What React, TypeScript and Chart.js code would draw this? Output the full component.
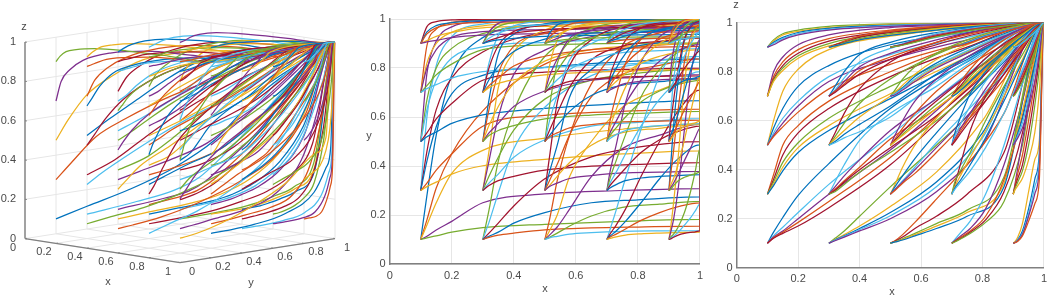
import React, { useEffect, useRef } from "react";
import { Chart, registerables } from "chart.js";

Chart.register(...registerables);

const FONT = '"Liberation Sans", Arial, sans-serif';
const TEXT = "#4a4a4a";
const GRID = "#e6e6e6";
const AXIS = "#808080";

const palette = ["#0072BD", "#D95319", "#EDB120", "#7E2F8E", "#77AC30", "#4DBEEE", "#A2142F"];
const starts = [0.1, 0.3, 0.5, 0.7, 0.9];
const axisTicks = [0, 0.2, 0.4, 0.6, 0.8, 1];
const tickLabels = ["0", "0.2", "0.4", "0.6", "0.8", "1"];

// x positions read along each family of curves, one row per starting x
const xSamples = [
  [0.12, 0.15, 0.2, 0.3, 0.5, 0.75, 1],
  [0.32, 0.35, 0.4, 0.5, 0.65, 0.8, 1],
  [0.515, 0.54, 0.58, 0.65, 0.75, 0.87, 1],
  [0.71, 0.73, 0.76, 0.81, 0.87, 0.93, 1],
  [0.905, 0.915, 0.93, 0.95, 0.97, 0.985, 1],
];

// y readings: [starting z][starting y][sample]
const yFromX01 = [
  [[.28,.526,.77,.924,.978,.987,.99],[.6,.81,.928,.979,.994,.997,.997],[.778,.909,.968,.991,.998,.999,.999],[.891,.959,.986,.996,.999,.999,1],[.969,.989,.996,.999,1,1,1]],
  [[.18,.31,.45,.625,.816,.878,.899],[.46,.63,.76,.865,.945,.965,.972],[.67,.8,.88,.94,.976,.985,.988],[.82,.9,.946,.972,.989,.993,.995],[.947,.973,.985,.993,.997,.998,.999]],
  [[.159,.25,.37,.464,.514,.55,.571],[.42,.56,.694,.77,.803,.825,.837],[.63,.75,.841,.886,.905,.917,.923],[.8,.875,.925,.948,.957,.963,.966],[.939,.964,.979,.986,.988,.99,.991]],
  [[.113,.139,.174,.25,.286,.3,.308],[.33,.383,.449,.5625,.607,.623,.632],[.535,.592,.655,.75,.783,.794,.8],[.728,.772,.816,.875,.894,.9,.903],[.912,.929,.945,.964,.97,.972,.973]],
  [[.107,.115,.13,.148,.162,.174,.182],[.316,.334,.367,.401,.427,.449,.462],[.519,.539,.574,.609,.635,.655,.667],[.716,.732,.759,.785,.802,.816,.824],[.907,.913,.924,.934,.94,.945,.947]],
];
const yFromX03 = [
  [[.22,.42,.625,.847,.943,.971,.982],[.46,.72,.865,.955,.985,.992,.995],[.67,.857,.938,.98,.993,.997,.998],[.82,.933,.972,.992,.997,.999,.999],[.947,.982,.993,.998,.999,1,1]],
  [[.17,.29,.47,.64,.769,.816,.847],[.42,.6,.774,.873,.928,.945,.955],[.63,.778,.889,.941,.968,.976,.98],[.8,.891,.949,.974,.986,.989,.992],[.939,.969,.986,.993,.996,.997,.998]],
  [[.126,.167,.237,.348,.4375,.477,.5],[.358,.436,.546,.673,.75,.779,.794],[.565,.643,.737,.828,.875,.891,.9],[.752,.808,.867,.918,.942,.95,.955],[.921,.942,.962,.977,.984,.987,.988]],
  [[.113,.13,.167,.21,.25,.262,.274],[.33,.367,.436,.507,.5625,.578,.593],[.535,.574,.643,.706,.75,.762,.773],[.728,.759,.808,.848,.875,.882,.888],[.912,.924,.942,.956,.964,.966,.968]],
  [[.109,.118,.126,.139,.147,.151,.155],[.32,.34,.358,.383,.399,.407,.414],[.524,.545,.565,.592,.608,.615,.623],[.72,.737,.752,.772,.783,.789,.794],[.908,.915,.921,.929,.933,.935,.937]],
];
const yFromX05 = [
  [[.18,.34,.526,.735,.886,.943,.971],[.436,.659,.811,.915,.968,.985,.992],[.643,.818,.909,.962,.986,.993,.997],[.808,.913,.959,.983,.994,.997,.999],[.942,.976,.989,.996,.998,.999,1]],
  [[.135,.2,.357,.5,.64,.71,.757],[.375,.485,.682,.794,.873,.904,.923],[.583,.688,.833,.9,.941,.957,.966],[.766,.837,.921,.955,.974,.981,.985],[.927,.952,.978,.988,.993,.995,.996]],
  [[.118,.151,.224,.357,.471,.526,.571],[.34,.407,.527,.682,.774,.811,.837],[.545,.615,.722,.833,.889,.909,.923],[.737,.789,.859,.921,.949,.959,.966],[.915,.935,.959,.978,.986,.989,.991]],
  [[.109,.126,.155,.196,.231,.244,.256],[.32,.358,.414,.485,.536,.554,.57],[.524,.565,.623,.688,.73,.744,.756],[.72,.752,.794,.837,.863,.871,.879],[.908,.921,.937,.952,.961,.963,.965]],
  [[.107,.113,.122,.128,.133,.135,.136],[.316,.33,.349,.361,.372,.375,.378],[.519,.535,.556,.569,.58,.583,.587],[.716,.728,.745,.755,.763,.766,.768],[.907,.912,.918,.922,.926,.927,.927]],
];
const yFromX07 = [
  [[.14,.22,.35,.55,.769,.886,.943],[.375,.485,.659,.825,.928,.968,.985],[.583,.688,.818,.917,.968,.986,.993],[.766,.837,.913,.963,.986,.994,.997],[.927,.952,.976,.99,.996,.998,.999]],
  [[.122,.159,.224,.357,.5,.625,.71],[.349,.422,.527,.682,.794,.865,.904],[.556,.63,.722,.833,.9,.938,.957],[.745,.799,.859,.921,.955,.972,.981],[.918,.939,.959,.978,.988,.993,.995]],
  [[.113,.135,.174,.25,.348,.43,.486],[.33,.375,.449,.5625,.673,.745,.785],[.535,.583,.655,.75,.828,.872,.895],[.728,.766,.816,.875,.918,.941,.952],[.912,.927,.945,.964,.977,.984,.987]],
  [[.109,.122,.143,.178,.21,.234,.25],[.32,.349,.391,.455,.507,.541,.5625],[.524,.556,.6,.661,.706,.733,.75],[.72,.745,.778,.82,.848,.865,.875],[.908,.918,.931,.946,.956,.961,.964]],
  [[.104,.111,.118,.123,.126,.128,.13],[.31,.324,.34,.351,.358,.361,.365],[.512,.528,.545,.558,.565,.569,.573],[.71,.723,.737,.746,.752,.755,.758],[.904,.91,.915,.919,.921,.922,.923]],
];
const yFromX09 = [
  [[.143,.25,.4375,.735,.899,.957,.978],[.391,.5625,.75,.915,.972,.988,.994],[.6,.75,.875,.962,.988,.995,.998],[.778,.875,.942,.983,.995,.998,.999],[.931,.964,.984,.996,.999,.999,1]],
  [[.126,.182,.308,.55,.769,.87,.917],[.358,.462,.632,.825,.928,.963,.977],[.565,.667,.8,.917,.968,.984,.99],[.752,.824,.903,.963,.986,.993,.996],[.921,.947,.973,.99,.996,.998,.999]],
  [[.109,.122,.151,.21,.297,.379,.471],[.32,.349,.407,.507,.62,.702,.774],[.524,.556,.615,.706,.792,.846,.889],[.72,.745,.789,.848,.899,.928,.949],[.908,.918,.935,.956,.972,.98,.986]],
  [[.104,.113,.13,.159,.189,.217,.244],[.31,.33,.367,.422,.474,.517,.554],[.512,.535,.574,.63,.677,.714,.744],[.71,.728,.759,.799,.831,.854,.871],[.904,.912,.924,.939,.95,.957,.963]],
  [[.102,.109,.118,.125,.129,.131,.135],[.304,.32,.34,.354,.363,.368,.375],[.505,.524,.545,.561,.571,.576,.583],[.704,.72,.737,.749,.756,.76,.766],[.902,.908,.915,.92,.923,.925,.927]],
];

// z readings: [starting z][starting y][sample]; every curve ends at z = 1
const zFromX01 = [
  [[.145,.205,.295,.425,.65,.84],[.13,.165,.225,.34,.54,.79],[.125,.15,.2,.3,.48,.75],[.122,.145,.185,.27,.45,.73],[.12,.14,.17,.245,.42,.71]],
  [[.38,.5,.58,.68,.8,.92],[.36,.46,.55,.65,.78,.9],[.35,.43,.51,.61,.74,.88],[.34,.41,.49,.58,.71,.86],[.335,.395,.47,.56,.69,.85]],
  [[.6,.72,.81,.89,.945,.98],[.57,.65,.74,.825,.91,.96],[.55,.61,.68,.78,.87,.94],[.54,.59,.66,.76,.85,.93],[.535,.575,.635,.73,.83,.92]],
  [[.8,.86,.91,.95,.98,.99],[.78,.84,.89,.935,.97,.99],[.77,.825,.875,.925,.965,.985],[.765,.815,.865,.915,.96,.985],[.76,.805,.855,.905,.95,.98]],
  [[.93,.955,.97,.985,.995,.999],[.925,.95,.965,.98,.993,.998],[.92,.94,.96,.977,.99,.997],[.915,.935,.955,.973,.988,.996],[.91,.93,.95,.97,.985,.995]],
];
const zFromX03 = [
  [[.12,.15,.21,.33,.5,.68],[.115,.135,.17,.25,.39,.6],[.113,.13,.16,.225,.35,.55],[.112,.128,.155,.212,.33,.53],[.11,.125,.15,.2,.31,.5]],
  [[.35,.42,.52,.63,.74,.87],[.33,.375,.44,.56,.69,.83],[.32,.355,.41,.525,.65,.8],[.315,.35,.4,.49,.62,.78],[.31,.34,.39,.47,.6,.76]],
  [[.55,.63,.73,.84,.92,.97],[.535,.59,.67,.77,.87,.94],[.525,.56,.615,.7,.82,.91],[.515,.545,.585,.66,.79,.89],[.51,.53,.555,.615,.76,.88]],
  [[.74,.8,.87,.92,.96,.985],[.725,.775,.84,.895,.94,.975],[.72,.76,.82,.875,.93,.97],[.72,.75,.805,.86,.92,.965],[.715,.745,.79,.85,.91,.96]],
  [[.91,.925,.945,.965,.985,.995],[.91,.92,.94,.96,.98,.993],[.905,.918,.935,.955,.977,.99],[.905,.915,.93,.95,.975,.99],[.905,.915,.93,.948,.97,.987]],
];
const zFromX05 = [
  [[.11,.135,.185,.28,.42,.63],[.108,.125,.16,.21,.3,.47],[.106,.118,.14,.18,.235,.37],[.105,.115,.135,.17,.225,.345],[.105,.113,.13,.16,.21,.33]],
  [[.34,.41,.5,.61,.74,.87],[.33,.375,.445,.55,.69,.84],[.32,.355,.41,.51,.64,.8],[.318,.35,.4,.49,.62,.79],[.315,.345,.385,.47,.6,.77]],
  [[.54,.6,.68,.77,.86,.94],[.525,.57,.63,.72,.82,.91],[.52,.555,.605,.68,.78,.89],[.515,.545,.59,.665,.76,.875],[.515,.54,.58,.65,.745,.86]],
  [[.725,.77,.82,.875,.93,.975],[.715,.745,.79,.85,.91,.965],[.71,.735,.78,.835,.895,.955],[.71,.73,.77,.825,.885,.95],[.705,.725,.76,.815,.875,.945]],
  [[.905,.915,.93,.955,.975,.992],[.905,.912,.928,.95,.972,.99],[.903,.91,.925,.947,.97,.988],[.903,.91,.922,.945,.968,.987],[.903,.908,.92,.942,.966,.986]],
];
const zFromX07 = [
  [[.115,.145,.19,.3,.5,.75],[.11,.13,.16,.24,.42,.68],[.108,.125,.15,.21,.36,.62],[.107,.12,.145,.195,.31,.55],[.105,.118,.14,.185,.27,.5]],
  [[.34,.43,.56,.7,.82,.91],[.35,.4,.47,.6,.74,.87],[.33,.38,.45,.56,.7,.85],[.325,.36,.42,.53,.68,.84],[.32,.35,.395,.49,.63,.8]],
  [[.55,.62,.71,.8,.88,.945],[.535,.59,.66,.76,.85,.93],[.525,.57,.63,.73,.83,.92],[.52,.56,.615,.71,.81,.905],[.515,.55,.6,.68,.79,.89]],
  [[.72,.76,.81,.875,.93,.97],[.715,.745,.79,.855,.915,.96],[.71,.735,.78,.84,.9,.955],[.71,.73,.77,.83,.89,.95],[.705,.725,.76,.82,.885,.945]],
  [[.903,.912,.928,.95,.97,.987],[.903,.91,.925,.947,.968,.985],[.902,.908,.923,.945,.966,.984],[.902,.907,.92,.942,.964,.983],[.902,.906,.918,.94,.962,.982]],
];
const zFromX09 = [
  [[.105,.125,.18,.31,.44,.52],[.103,.115,.15,.24,.36,.47],[.102,.112,.14,.22,.33,.44],[.102,.11,.135,.21,.3,.41],[.102,.108,.13,.19,.26,.36]],
  [[.335,.41,.52,.66,.8,.9],[.33,.385,.46,.6,.75,.87],[.325,.365,.42,.55,.71,.85],[.32,.35,.395,.5,.66,.81],[.315,.335,.365,.44,.55,.72]],
  [[.535,.605,.69,.79,.88,.945],[.52,.57,.64,.75,.85,.93],[.515,.55,.61,.72,.83,.92],[.51,.54,.59,.69,.8,.9],[.51,.53,.57,.65,.76,.87]],
  [[.72,.76,.81,.87,.93,.97],[.715,.745,.79,.85,.915,.96],[.71,.735,.78,.84,.905,.955],[.71,.73,.77,.83,.895,.95],[.705,.725,.76,.82,.885,.945]],
  [[.902,.91,.925,.945,.968,.985],[.902,.908,.922,.943,.966,.984],[.902,.907,.92,.941,.965,.983],[.901,.906,.918,.94,.963,.982],[.901,.905,.917,.938,.96,.98]],
];

const yTables = [yFromX01, yFromX03, yFromX05, yFromX07, yFromX09];
const zTables = [zFromX01, zFromX03, zFromX05, zFromX07, zFromX09];

type P3 = { x: number; y: number; z: number };

function buildCurves(): P3[][] {
  const curves: P3[][] = [];
  starts.forEach((x0, i) =>
    starts.forEach((y0, j) =>
      starts.forEach((z0, k) => {
        const pts: P3[] = [{ x: x0, y: y0, z: z0 }];
        xSamples[i].forEach((x, s) => {
          pts.push({ x, y: yTables[i][k][j][s], z: s < 6 ? zTables[i][k][j][s] : 1 });
        });
        pts.push({ x: 1, y: 1, z: 1 });
        curves.push(pts);
      })
    )
  );
  return curves;
}
const curves = buildCurves();

const project = (x: number, y: number, z: number) => ({
  x: 25 + 155 * x + 155 * y,
  y: 238.6 + 24 * x - 24 * y - 196.6 * z,
});

type Txt = { t: string; x: number; y: number; a?: CanvasTextAlign };
const textPlugin = (items: Txt[]) => ({
  id: "texts",
  afterDraw(chart: any) {
    const c = chart.ctx;
    c.save();
    c.fillStyle = TEXT;
    c.font = `11px ${FONT}`;
    c.textBaseline = "middle";
    items.forEach((it) => {
      c.textAlign = it.a || "center";
      c.fillText(it.t, it.x, it.y);
    });
    c.restore();
  },
});

function curveDatasets(pick: (p: P3) => { x: number; y: number }) {
  return curves.map((pts, i) => ({
    data: pts.map(pick),
    borderColor: palette[i % 7],
    borderWidth: 1.25,
    pointRadius: 0,
    showLine: true,
    cubicInterpolationMode: "monotone" as const,
    clip: 0,
    order: -i,
  }));
}

const seg = (a: number[], b: number[], color: string, width: number) => ({
  data: [project(a[0], a[1], a[2]), project(b[0], b[1], b[2])],
  borderColor: color,
  borderWidth: width,
  pointRadius: 0,
  showLine: true,
  clip: false,
  order: width > 1 ? 500 : 1000,
});

function cubeDatasets() {
  const out: any[] = [];
  axisTicks.forEach((t) => {
    if (t > 0) {
      out.push(seg([0, 0, t], [0, 1, t], GRID, 1));
      out.push(seg([0, 1, t], [1, 1, t], GRID, 1));
    }
    out.push(seg([0, t, 0], [0, t, 1], GRID, 1));
    out.push(seg([t, 1, 0], [t, 1, 1], GRID, 1));
    out.push(seg([t, 0, 0], [t, 1, 0], GRID, 1));
    out.push(seg([0, t, 0], [1, t, 0], GRID, 1));
    out.push(seg([t, 0, 0], [t, 0.012, 0], AXIS, 1.01));
    out.push(seg([1, t, 0], [0.988, t, 0], AXIS, 1.01));
    out.push(seg([0, 0, t], [0.012, 0, t], AXIS, 1.01));
  });
  out.push(seg([0, 0, 0], [0, 0, 1], AXIS, 1.4));
  out.push(seg([0, 0, 0], [1, 0, 0], AXIS, 1.4));
  out.push(seg([1, 0, 0], [1, 1, 0], AXIS, 1.4));
  return out;
}

function planeOptions(plotLeft: number, bottom: number, top: number, right: number) {
  const axis = (labelPad: number) => ({
    type: "linear" as const,
    min: 0,
    max: 1,
    grid: { color: GRID, lineWidth: 1, drawTicks: false },
    border: { color: AXIS, width: 1.5 },
    ticks: {
      stepSize: 0.2,
      padding: labelPad,
      color: TEXT,
      font: { family: FONT, size: 11 },
      maxRotation: 0,
      autoSkip: false,
      callback: (v: any) => tickLabels[axisTicks.findIndex((t) => Math.abs(t - v) < 1e-6)],
    },
  });
  return {
    animation: false as const,
    responsive: false,
    layout: { padding: { left: 0, top, right, bottom: 0 } },
    plugins: { legend: { display: false }, tooltip: { enabled: false }, title: { display: false } },
    scales: {
      x: { ...axis(5), afterFit: (s: any) => { s.height = bottom; } },
      y: { ...axis(4), afterFit: (s: any) => { s.width = plotLeft; } },
    },
  };
}

function useChart(make: (c: HTMLCanvasElement) => Chart) {
  const ref = useRef<HTMLCanvasElement>(null);
  useEffect(() => {
    const chart = make(ref.current!);
    return () => chart.destroy();
  }, []);
  return ref;
}

export default function App() {
  const left = useChart((c) =>
    new Chart(c, {
      type: "scatter",
      data: {
        datasets: [
          ...curveDatasets((p) => project(p.x, p.y, p.z)),
          ...cubeDatasets(),
        ] as any,
      },
      options: {
        animation: false,
        responsive: false,
        plugins: { legend: { display: false }, tooltip: { enabled: false } },
        layout: { padding: 0 },
        scales: {
          x: { type: "linear", min: 0, max: 352, display: false },
          y: { type: "linear", min: 0, max: 298, reverse: true, display: false },
        },
      } as any,
      plugins: [
        textPlugin([
          { t: "z", x: 24, y: 27 },
          { t: "x", x: 108, y: 282 },
          { t: "y", x: 251, y: 283 },
          ...tickLabels.map((t, i) => ({ t, x: 16, y: project(0, 0, axisTicks[i]).y, a: "right" as const })),
          ...tickLabels.map((t, i) => ({
            t,
            x: project(axisTicks[i], 0, 0).x - 12,
            y: project(axisTicks[i], 0, 0).y + 9,
          })),
          ...tickLabels.map((t, i) => ({
            t,
            x: project(1, axisTicks[i], 0).x + 12,
            y: project(1, axisTicks[i], 0).y + 9,
          })),
        ]),
      ],
    } as any)
  );

  const mid = useChart((c) =>
    new Chart(c, {
      type: "scatter",
      data: { datasets: curveDatasets((p) => ({ x: p.x, y: p.y })) as any },
      options: planeOptions(37.7, 34, 19, 6.5) as any,
      plugins: [
        textPlugin([
          { t: "x", x: 193, y: 289 },
          { t: "y", x: 17, y: 136 },
        ]),
      ],
    } as any)
  );

  const right = useChart((c) =>
    new Chart(c, {
      type: "scatter",
      data: { datasets: curveDatasets((p) => ({ x: p.x, y: p.z })) as any },
      options: planeOptions(24.7, 30.3, 22.7, 3.7) as any,
      plugins: [
        textPlugin([
          { t: "x", x: 180, y: 292 },
          { t: "z", x: 24, y: 5 },
        ]),
      ],
    } as any)
  );

  const abs = (l: number): React.CSSProperties => ({ position: "absolute", left: l, top: 0 });
  return (
    <div style={{ position: "fixed", left: 0, top: 0, width: 1052, height: 298, background: "#fff" }}>
      <canvas ref={left} width={352} height={298} style={abs(0)} />
      <canvas ref={mid} width={356} height={298} style={abs(352)} />
      <canvas ref={right} width={340} height={298} style={abs(712)} />
    </div>
  );
}
